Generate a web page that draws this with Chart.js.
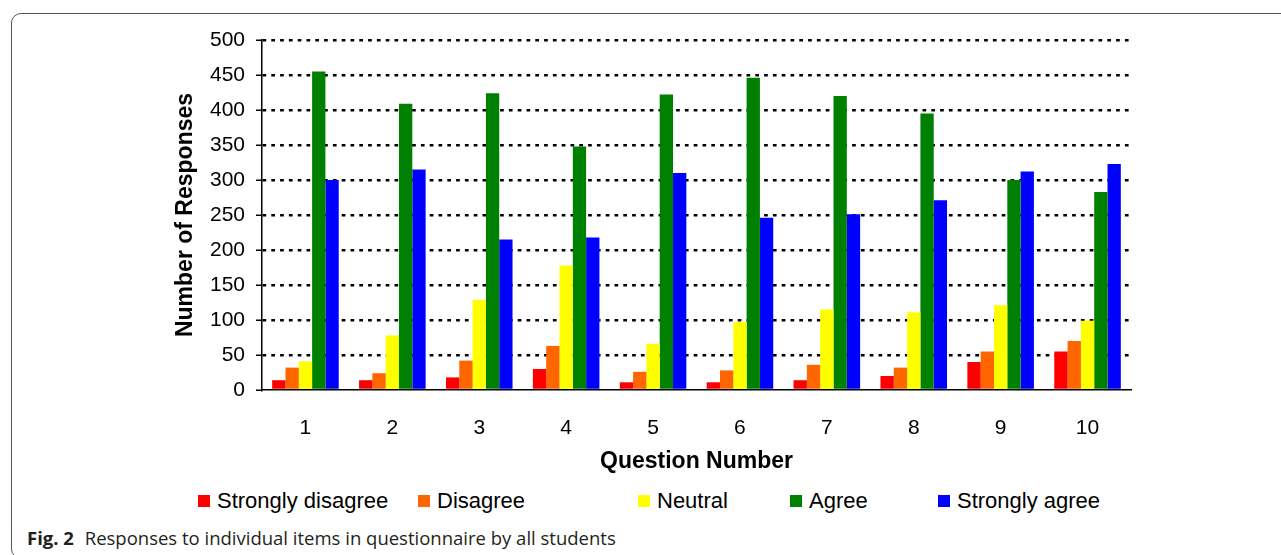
<!DOCTYPE html>
<html>
<head>
<meta charset="utf-8">
<script src="https://cdn.jsdelivr.net/npm/chart.js@4/dist/chart.umd.min.js"></script>
<style>
  body { margin: 0; background: #fff; width: 1281px; height: 555px; overflow: hidden; position: relative; }
  #frame {
    position: absolute; left: 11px; top: 13px; width: 1320px; height: 546px;
    border: 1.5px solid #555; border-radius: 10px 0 0 10px; box-sizing: border-box;
  }
  #chart { position: absolute; left: 0; top: 0; }
  #legend {
    position: absolute; left: 198px; top: 488px;
    display: grid; grid-template-columns: 220px 220px 152px 148px auto;
    font-family: 'Liberation Sans', Arial, sans-serif; font-size: 22px; color: #000;
  }
  #legend div { display: flex; align-items: center; white-space: nowrap; }
  #legend span.box { width: 12px; height: 12px; margin-right: 7px; display: inline-block; }
  #caption {
    position: absolute; left: 27px; top: 525px;
    font-family: 'Open Sans', 'Noto Sans', sans-serif; font-size: 18.5px; color: #231f20;
    white-space: nowrap;
  }
  #caption b { font-weight: 700; margin-right: 6px; }
</style>
</head>
<body>
<div id="frame"></div>
<canvas id="chart" width="1281" height="480"></canvas>
<div id="legend"></div>
<div id="caption"><b>Fig. 2</b> Responses to individual items in questionnaire by all students</div>
<script>
Chart.defaults.font.family = "'Liberation Sans', Arial, sans-serif";
Chart.defaults.color = '#000';

var questions = ['1', '2', '3', '4', '5', '6', '7', '8', '9', '10'];
var stronglyDisagree = [14, 14, 18, 30, 11, 11, 14, 20, 40, 55];
var disagree = [32, 24, 42, 63, 26, 28, 36, 32, 55, 70];
var neutral = [41, 78, 129, 178, 66, 97, 115, 111, 121, 99];
var agree = [455, 409, 424, 348, 422, 446, 420, 395, 300, 283];
var stronglyAgree = [300, 315, 215, 218, 310, 246, 251, 271, 312, 323];
var yTicks = [0, 50, 100, 150, 200, 250, 300, 350, 400, 450, 500];

var ctx = document.getElementById('chart');
var myChart = new Chart(ctx, {
    type: 'bar',
    data: {
        labels: questions,
        datasets: [
            { label: 'Strongly disagree', data: stronglyDisagree, backgroundColor: '#FF0000' },
            { label: 'Disagree', data: disagree, backgroundColor: '#FF6600' },
            { label: 'Neutral', data: neutral, backgroundColor: '#FFFF00' },
            { label: 'Agree', data: agree, backgroundColor: '#008000' },
            { label: 'Strongly agree', data: stronglyAgree, backgroundColor: '#0000FF' },
        ]
    },
    options: {
        responsive: false,
        animation: false,
        layout: {
            padding: { left: 165, right: 150, top: 40, bottom: 0 },
        },
        plugins: {
            legend: { display: false },
            tooltip: { enabled: false },
        },
        datasets: {
            bar: {
                barPercentage: 1,
                categoryPercentage: 0.766,
            },
        },
        scales: {
            x: {
                grid: { display: false },
                border: { display: true, color: '#000', width: 1.5 },
                ticks: { font: { size: 21 }, padding: 18, maxRotation: 0 },
                title: {
                    display: true,
                    text: 'Question Number',
                    font: { size: 23, weight: 'bold' },
                    padding: { top: 0, bottom: 5 },
                },
                afterFit: function (scale) { scale.height = 90; },
            },
            y: {
                min: 0,
                max: 500,
                afterBuildTicks: function (scale) {
                    scale.ticks = yTicks.map(function (v) { return { value: v }; });
                },
                grid: {
                    color: function (c) { return c.tick && c.tick.value === 0 ? 'rgba(0,0,0,0)' : '#000'; },
                    lineWidth: 2.5,
                    tickColor: '#000',
                    tickWidth: 1.5,
                    tickLength: 6,
                    tickBorderDash: [],
                },
                border: { display: true, color: '#000', width: 1.5, dash: [3.7, 5.1] },
                ticks: { font: { size: 21 }, padding: 11 },
                title: {
                    display: true,
                    text: 'Number of Responses',
                    font: { size: 23, weight: 'bold' },
                    padding: { top: 7, bottom: 0 },
                },
                afterFit: function (scale) { scale.width = 97; },
            },
        },
    },
});

// html legend built from the chart's own datasets
var legendEl = document.getElementById('legend');
myChart.data.datasets.forEach(function (ds) {
    var item = document.createElement('div');
    var box = document.createElement('span');
    box.className = 'box';
    box.style.background = ds.backgroundColor;
    item.appendChild(box);
    item.appendChild(document.createTextNode(ds.label));
    legendEl.appendChild(item);
});
</script>
</body>
</html>
